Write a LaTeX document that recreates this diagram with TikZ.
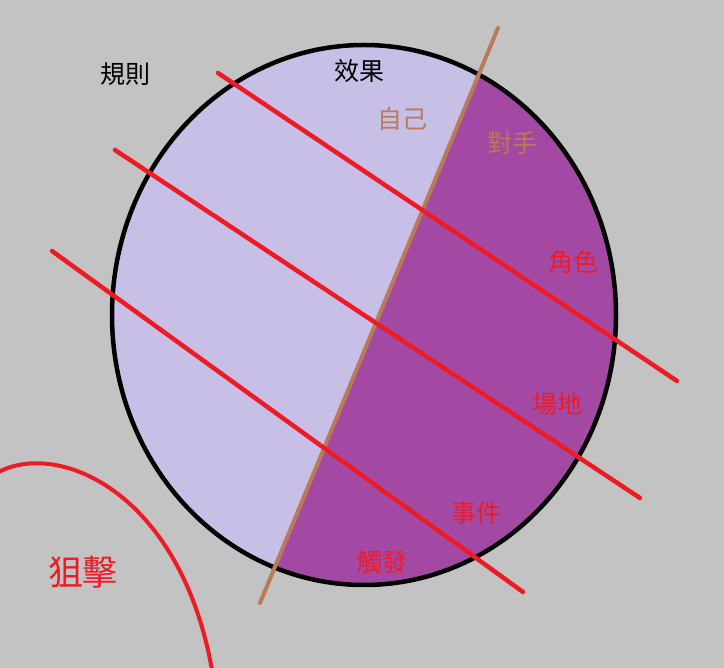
\documentclass[tikz,border=0pt]{standalone}
\usepackage{fontspec}
\setmainfont{Noto Sans CJK TC}
\usepackage{tikz}
\definecolor{bg}{HTML}{C3C3C3}
\definecolor{lav}{HTML}{C8BFE7}
\definecolor{purp}{HTML}{A349A4}
\definecolor{brn}{HTML}{B97A57}
\definecolor{rd}{HTML}{ED1C24}
\tikzset{lbl/.style={font=\fontsize{25}{25}\selectfont}}

\begin{document}
\begin{tikzpicture}[x=1pt,y=-1pt]
	\useasboundingbox (0,0) rectangle (724,668);
\fill[bg] (0,0) rectangle (724,668);
\fill[lav] (364,315) ellipse (252 and 270);
\begin{scope}
\clip (364,315) ellipse (252 and 270);
\fill[purp] (236,661) -- (522,-31) -- (724,-31) -- (724,700) -- cycle;
\end{scope}
\draw[black,line width=4.5pt] (364,315) ellipse (252 and 270);
\draw[brn,line width=4pt,line cap=round] (260,603) -- (498,28);
\draw[rd,line width=4.5pt,line cap=round] (218,73) -- (677,381);
\draw[rd,line width=4.5pt,line cap=round] (115,150) -- (640,498);
\draw[rd,line width=4.5pt,line cap=round] (52,251) -- (523,592);
\draw[rd,line width=4pt] (-5,474) .. controls (55,438) and (180,490) .. (212,670);
\node[lbl] (R) at (125,74) {規則};
\node[lbl] (E) at (359,71) {效果};
\node[lbl,text=brn] (S) at (402,119) {自己};
\node[lbl,text=brn] (O) at (512,143) {對手};
\node[lbl,text=rd] (C) at (573,262) {角色};
\node[lbl,text=rd] (F) at (557,404) {場地};
\node[lbl,text=rd] (V) at (476,513) {事件};
\node[lbl,text=rd] (T) at (382,562) {觸發};
\node[text=rd,font=\fontsize{35}{35}\selectfont] (J) at (83,572) {狙擊};

\end{tikzpicture}
\end{document}
